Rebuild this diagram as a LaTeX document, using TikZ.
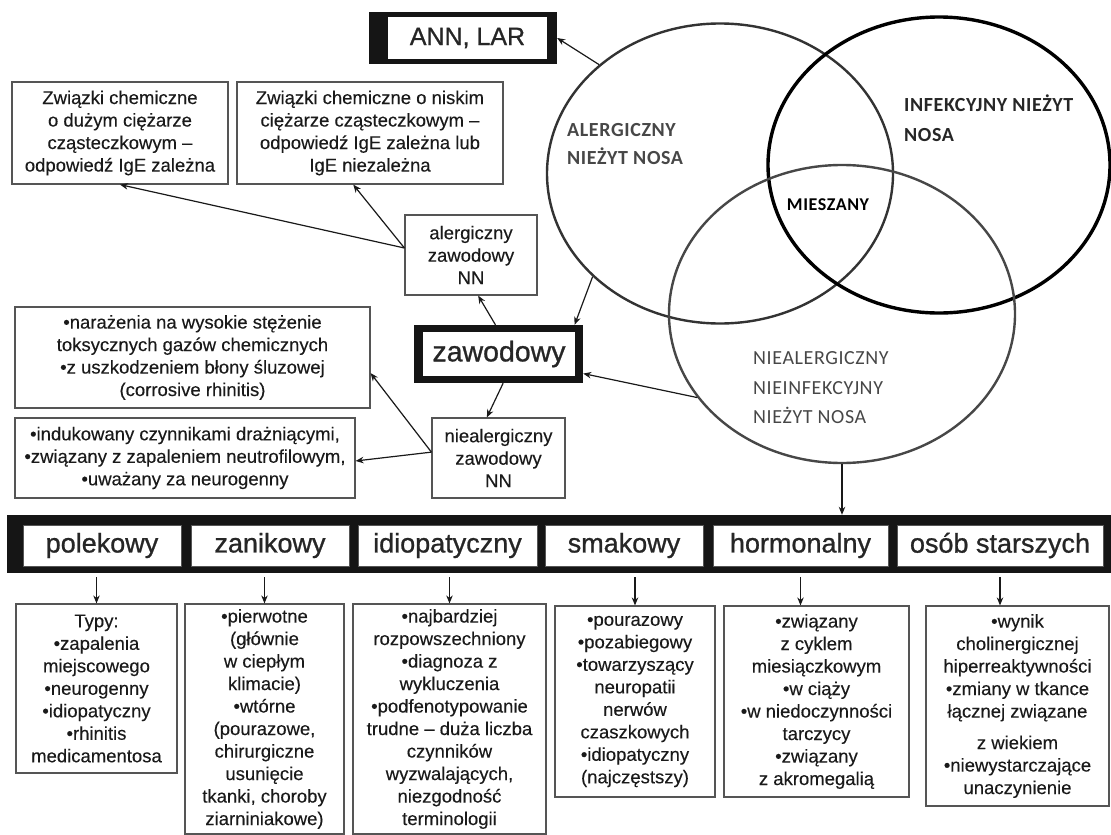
\documentclass[tikz,border=0pt]{standalone}
\usepackage{fontspec}
\setmainfont{Liberation Sans}
\newfontfamily\headfont[FakeBold=0.9]{Liberation Sans}
\newfontfamily\bodyfont[FakeBold=0.25]{Liberation Sans}
\newfontfamily\vennfont[LetterSpace=3]{Carlito}
\usetikzlibrary{arrows.meta,shapes.geometric}
\definecolor{boxgray}{HTML}{555555}
\definecolor{barblack}{HTML}{151515}
\definecolor{inktext}{HTML}{1A1A1A}
\begin{document}
\begin{tikzpicture}[x=1pt,y=-1pt,
  box/.style={draw=boxgray, line width=1.2pt, align=center, inner sep=0pt, fill=white,
    font=\bodyfont\fontsize{18.5}{22.5}\selectfont, text=inktext},
  cell/.style={draw=boxgray, line width=0.8pt, fill=white, inner sep=0pt, minimum height=41,
    font=\headfont\fontsize{27}{30}\selectfont, text=black!85},
  heavy/.style={fill=barblack, draw=none, inner sep=0pt},
  arr/.style={-{Stealth[length=8pt,width=6.5pt]}, line width=1.2pt, black!90},
  vlab/.style={inner sep=0pt, align=left, anchor=west}
]
\useasboundingbox (0,0) rectangle (1111,835);

% ---------- Venn diagram ----------
\node[ellipse, draw=black!80, line width=2.4pt, minimum width=346, minimum height=300, inner sep=0pt] (A) at (720,173.5) {};
\node[ellipse, draw=black, line width=3.4pt, minimum width=342, minimum height=296, inner sep=0pt] (B) at (939,165) {};
\node[ellipse, draw=black!72, line width=2.4pt, minimum width=346, minimum height=298, inner sep=0pt] (C) at (842,314) {};

\node[vlab, text=black!72, font=\vennfont\bfseries\fontsize{20}{28}\selectfont] (tA) at (567,144) {ALERGICZNY\\NIEŻYT NOSA};
\node[vlab, text=black!85, font=\vennfont\bfseries\fontsize{20}{30}\selectfont] (tB) at (904,118) {INFEKCYJNY NIEŻYT\\NOSA};
\node[inner sep=0pt, text=black, font=\vennfont\bfseries\fontsize{18}{22}\selectfont] (tM) at (828,205) {MIESZANY};
\node[vlab, text=black!72, font=\vennfont\fontsize{20}{29.5}\selectfont] (tC) at (753,388) {NIEALERGICZNY\\NIEINFEKCYJNY\\NIEŻYT NOSA};

% ---------- ANN, LAR ----------
\node[heavy, minimum width=188, minimum height=52] (ANNo) at (463,38) {};
\node[fill=white, inner sep=0pt, minimum width=159, minimum height=42, font=\headfont\fontsize{25}{28}\selectfont, text=black!85] (ANN) at (467.5,38) {ANN, LAR};

% ---------- zawodowy ----------
\node[heavy, minimum width=169, minimum height=58] (zawo) at (498.5,354) {};
\node[fill=white, inner sep=0pt, minimum width=152, minimum height=44, font=\headfont\fontsize{28.5}{30}\selectfont, text=black!85] (zaw) at (499,354) {zawodowy};

% ---------- left boxes ----------
\node[box, minimum width=216, minimum height=102] (b1) at (120,133)
  {Związki chemiczne\\o dużym ciężarze\\cząsteczkowym –\\odpowiedź IgE zależna};
\node[box, minimum width=266, minimum height=102] (b2) at (370,133)
  {Związki chemiczne o niskim\\ciężarze cząsteczkowym –\\odpowiedź IgE zależna lub\\IgE niezależna};
\node[box, minimum width=132, minimum height=80] (nn1) at (471,255)
  {alergiczny\\zawodowy\\NN};
\node[box, minimum width=355, minimum height=101] (b3) at (192.5,357.5)
  {•narażenia na wysokie stężenie\\toksycznych gazów chemicznych\\•z uszkodzeniem błony śluzowej\\(corrosive rhinitis)};
\node[box, minimum width=340, minimum height=80] (b4) at (185,458)
  {•indukowany czynnikami drażniącymi,\\•związany z zapaleniem neutrofilowym,\\•uważany za neurogenny};
\node[box, minimum width=133, minimum height=80] (nn2) at (498.5,458)
  {niealergiczny\\zawodowy\\NN};

% ---------- bar ----------
\node[heavy, minimum width=1104, minimum height=58] (bar) at (559,544) {};
\node[cell, minimum width=158] (c1) at (102,545.5) {polekowy};
\node[cell, minimum width=158] (c2) at (270,545.5) {zanikowy};
\node[cell, minimum width=179] (c3) at (447.5,545.5) {idiopatyczny};
\node[cell, minimum width=158] (c4) at (624,545.5) {smakowy};
\node[cell, minimum width=175] (c5) at (800.5,545.5) {hormonalny};
\node[cell, minimum width=206] (c6) at (1000,545.5) {osób starszych};

% ---------- detail boxes ----------
\node[box, minimum width=161, minimum height=169] (d1) at (96.5,688.5)
  {Typy:\\•zapalenia\\miejscowego\\•neurogenny\\•idiopatyczny\\•rhinitis\\medicamentosa};
\node[box, minimum width=159, minimum height=230] (d2) at (264.5,719)
  {•pierwotne\\(głównie\\w ciepłym\\klimacie)\\•wtórne\\(pourazowe,\\chirurgiczne\\usunięcie\\tkanki, choroby\\ziarniniakowe)};
\node[box, minimum width=193, minimum height=230] (d3) at (449.5,719)
  {•najbardziej\\rozpowszechniony\\•diagnoza z\\wykluczenia\\•podfenotypowanie\\trudne – duża liczba\\czynników\\wyzwalających,\\niezgodność\\terminologii};
\node[box, minimum width=160, minimum height=191] (d4) at (635,701.5)
  {•pourazowy\\•pozabiegowy\\•towarzyszący\\neuropatii\\nerwów\\czaszkowych\\•idiopatyczny\\(najczęstszy)};
\node[box, minimum width=185, minimum height=191] (d5) at (816.5,701.5)
  {•związany\\z cyklem\\miesiączkowym\\•w ciąży\\•w niedoczynności\\tarczycy\\•związany\\z akromegalią};
\node[box, minimum width=183, minimum height=200] (d6) at (1017.5,706)
  {•wynik\\cholinergicznej\\hiperreaktywności\\•zmiany w tkance\\łącznej związane\\[9pt]z wiekiem\\•niewystarczające\\unaczynienie};

% ---------- connectors ----------
\draw[arr] (A.138) -- (ANNo.east);
\draw[arr] (A.219) -- (zawo.21);
\draw[arr] (C.210) -- (zawo.-13);
\draw[arr] (nn1.174) -- (b1.south);
\draw[arr] (nn1.174) -- (b2.252);
\draw[arr] (zawo.96) -- (nn1.280);
\draw[arr] (zawo.279) -- (nn2.106);
\draw[arr] (nn2.175) -- (b3.-5.6);
\draw[arr] (nn2.175) -- (b4.-1.5);
\draw[arr] (C.south) -- (C.south |- bar.north);
\draw[arr, shorten <=4pt] (d1.north |- bar.south) -- (d1.north);
\draw[arr, shorten <=4pt] (d2.north |- bar.south) -- (d2.north);
\draw[arr, shorten <=4pt] (d3.north |- bar.south) -- (d3.north);
\draw[arr, shorten <=4pt] (d4.north |- bar.south) -- (d4.north);
\draw[arr, shorten <=4pt] (c5.south |- bar.south) -- (c5.south |- d5.north);
\draw[arr, shorten <=4pt] (c6.south |- bar.south) -- (c6.south |- d6.north);
\end{tikzpicture}
\end{document}
